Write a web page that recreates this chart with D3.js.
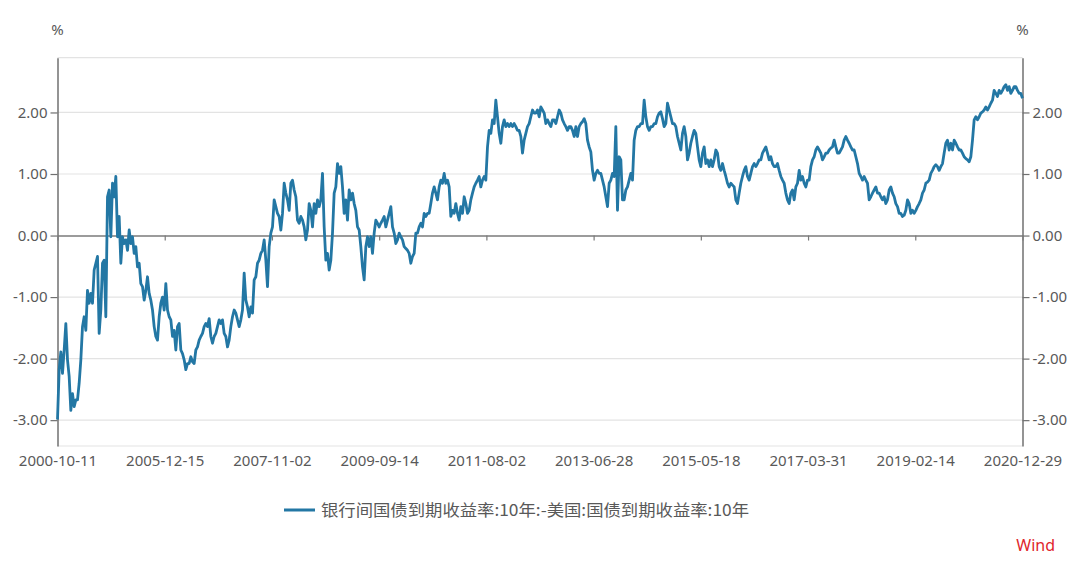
<!DOCTYPE html>
<html><head><meta charset="utf-8">
<script src="https://cdn.jsdelivr.net/npm/d3@7"></script>
<style>
html,body{margin:0;padding:0;background:#fff;}
svg{display:block;}
</style>
</head><body>
<div id="chart"></div>
<script>
// ---- data ----
const xTickLabels = ["2000-10-11","2005-12-15","2007-11-02","2009-09-14","2011-08-02","2013-06-28","2015-05-18","2017-03-31","2019-02-14","2020-12-29"];
const yTicks = [-3, -2, -1, 0, 1, 2];
const seriesName = "银行间国债到期收益率:10年:-美国:国债到期收益率:10年";
const unitLabel = "%";
const sourceLabel = "Wind";
// China 10Y minus US 10Y yield spread (%), evenly spaced observations
const spreadValues = [
-2.99,-2.18,-1.89,-2.24,-1.86,-1.43,-2.02,-2.29,-2.84,-2.57,-2.78,-2.67,-2.67,-2.40,-2.02,-1.48,-1.32,-1.54,-0.89,-1.10,
-0.94,-1.10,-0.56,-0.45,-0.34,-1.59,-1.21,-0.45,-0.40,-1.32,0.63,0.74,-0.02,0.85,0.63,0.96,-0.02,0.31,-0.45,-0.02,
-0.13,-0.07,-0.24,0.09,-0.13,-0.02,-0.29,-0.18,-0.51,-0.45,-0.78,-0.83,-1.05,-0.89,-0.67,-0.94,-1.05,-1.21,-1.48,-1.64,
-1.70,-1.32,-1.10,-1.00,-1.21,-0.78,-1.21,-1.32,-1.37,-1.64,-1.54,-1.86,-1.48,-1.43,-1.86,-1.92,-2.02,-2.18,-2.08,-2.08,
-1.97,-2.05,-2.08,-1.86,-1.81,-1.70,-1.64,-1.59,-1.48,-1.43,-1.48,-1.35,-1.64,-1.75,-1.64,-1.59,-1.48,-1.37,-1.43,-1.37,
-1.59,-1.64,-1.81,-1.70,-1.48,-1.32,-1.21,-1.26,-1.37,-1.48,-1.37,-1.21,-0.61,-1.05,-1.16,-1.32,-1.16,-1.26,-0.72,-0.67,
-0.45,-0.40,-0.29,-0.24,-0.07,-0.40,-0.83,-0.18,0.04,0.14,0.58,0.47,0.36,0.31,0.09,0.36,0.85,0.69,0.58,0.41,
0.85,0.90,0.74,0.63,0.25,0.20,0.31,0.25,0.14,-0.07,0.09,0.52,0.41,0.14,0.52,0.36,0.58,0.47,0.58,1.01,
0.14,-0.40,-0.29,-0.56,-0.40,0.04,0.69,0.79,1.17,1.01,1.12,0.79,0.36,0.58,0.25,0.74,0.58,0.69,0.52,0.41,
0.14,0.09,-0.18,-0.51,-0.72,-0.18,-0.02,-0.18,-0.02,-0.29,0.04,0.25,0.20,0.14,
0.20,0.25,0.31,0.14,0.25,0.36,0.47,0.14,0.04,-0.13,-0.07,0.04,-0.02,-0.07,-0.18,-0.21,-0.24,-0.29,-0.45,-0.34,
-0.29,0.04,0.04,0.14,0.20,0.14,0.36,0.31,0.36,0.36,0.52,0.69,0.79,0.69,0.58,0.79,0.90,0.85,1.01,0.85,
0.90,0.79,0.31,0.41,0.36,0.52,0.36,0.25,0.47,0.36,0.63,0.52,0.36,0.41,0.58,0.69,0.79,0.85,0.90,0.96,
0.79,0.90,0.96,0.90,1.44,1.71,1.66,1.88,1.82,2.20,1.93,1.66,1.50,1.77,1.88,1.77,1.82,1.77,1.82,1.77,
1.82,1.77,1.71,1.71,1.61,1.34,1.55,1.66,1.77,1.82,1.93,2.04,1.99,1.99,2.04,1.93,2.09,2.04,1.99,1.82,
1.88,1.82,1.77,1.88,1.88,1.82,1.93,2.04,1.99,1.88,1.82,1.77,1.71,1.77,
1.77,1.71,1.61,1.77,1.61,1.77,1.82,1.85,1.90,1.82,1.55,1.44,1.36,1.06,0.90,1.01,1.06,1.01,1.01,0.90,
0.79,0.63,0.47,0.85,0.90,1.01,0.96,1.77,0.41,1.28,1.23,0.58,0.58,0.74,0.79,0.90,1.01,0.90,1.55,1.71,
1.77,1.77,1.82,1.82,2.20,1.93,1.77,1.71,1.77,1.77,1.82,1.82,1.93,1.99,2.01,1.90,1.77,1.82,2.15,2.04,
1.93,1.82,1.82,1.77,1.61,1.50,1.39,1.66,1.77,1.61,1.23,1.34,1.50,1.61,1.71,1.66,1.44,1.23,1.12,1.34,
1.44,1.17,1.23,1.12,1.23,1.12,1.23,1.39,1.34,1.12,1.06,1.17,1.06,0.96,0.85,0.79,0.85,0.82,0.79,0.58,
0.52,0.69,0.85,0.96,1.06,1.12,0.96,0.90,1.01,1.12,1.17,1.12,1.17,1.23,
1.23,1.34,1.39,1.44,1.34,1.23,1.28,1.17,1.12,1.12,1.17,1.06,0.96,0.90,0.85,0.69,0.58,0.52,0.69,0.74,
0.58,0.79,0.85,1.06,0.90,0.96,0.85,0.79,0.90,0.90,1.12,1.23,1.28,1.39,1.44,1.39,1.34,1.23,1.28,1.34,
1.34,1.39,1.42,1.44,1.55,1.44,1.34,1.34,1.39,1.44,1.55,1.61,1.55,1.50,1.44,1.39,1.39,1.28,1.17,1.01,
0.96,0.90,0.96,0.90,0.85,0.58,0.63,0.69,0.74,0.79,0.69,0.69,0.63,0.58,0.63,0.52,0.58,0.74,0.79,0.69,
0.63,0.52,0.47,0.36,
0.36,0.31,0.33,0.41,0.58,0.52,0.36,0.41,0.36,0.41,0.47,0.52,0.58,0.69,0.74,0.85,0.87,0.90,1.01,1.06,
1.12,1.15,1.12,1.06,1.12,1.17,1.34,1.50,1.55,1.39,1.50,1.39,1.55,1.50,1.44,1.39,1.39,1.34,1.28,1.25,
1.23,1.20,1.28,1.55,1.88,1.93,1.88,1.93,1.99,2.01,2.04,2.09,2.04,2.09,2.15,2.20,2.36,2.31,2.26,2.36,
2.31,2.36,2.42,2.45,2.36,2.42,2.31,2.36,2.42,2.42,2.36,2.31,2.31,2.23
];

// ---- layout ----
const W = 1080, H = 561;
const plot = {left: 57.5, right: 1022.5, top: 57.7, bottom: 446};
const yDomain = [-3.42, 2.89];
const lineColor = "#2377a4";
const textColor = "#595959";
const font = "'Noto Sans', 'Open Sans', sans-serif";
const cjkFont = "'Noto Sans CJK SC', 'Noto Sans', sans-serif";

const svg = d3.select("#chart").append("svg").attr("width", W).attr("height", H);

const x = d3.scaleLinear().domain([0, spreadValues.length - 1]).range([plot.left, plot.right]);
const y = d3.scaleLinear().domain(yDomain).range([plot.bottom, plot.top]);

const tickIdx = xTickLabels.map((_, k) => k * (spreadValues.length - 1) / (xTickLabels.length - 1));
const fmt = d3.formatLocale({decimal: ".", thousands: ",", grouping: [3], currency: ["", ""], minus: "-"}).format(".2f");

// gridlines
const gridVals = yTicks.filter(v => v !== 0).concat(yDomain);
svg.append("g").selectAll("line").data(gridVals).join("line")
  .attr("x1", plot.left).attr("x2", plot.right)
  .attr("y1", d => y(d)).attr("y2", d => y(d))
  .attr("stroke", "#e3e3e3").attr("stroke-width", 1.2);

// left axis
const yl = svg.append("g").attr("transform", `translate(${plot.left},0)`)
  .call(d3.axisLeft(y).tickValues(yTicks).tickSize(7).tickPadding(3).tickFormat(fmt).tickSizeOuter(0));
// right axis
const yr = svg.append("g").attr("transform", `translate(${plot.right},0)`)
  .call(d3.axisRight(y).tickValues(yTicks).tickSize(7).tickPadding(3).tickFormat(fmt).tickSizeOuter(0));
[yl, yr].forEach(g => {
  g.select(".domain").attr("stroke", "#707070").attr("stroke-width", 1.5);
  g.selectAll(".tick line").attr("stroke", "#707070").attr("stroke-width", 1.2);
  g.selectAll(".tick text").attr("fill", textColor).style("font-family", font).style("font-size", "15px");
});

// zero line with tick marks
const xz = svg.append("g").attr("transform", `translate(0,${y(0)})`)
  .call(d3.axisBottom(x).tickValues(tickIdx).tickSize(5).tickSizeOuter(0).tickFormat(""));
xz.select(".domain").attr("stroke", "#7a7a7a").attr("stroke-width", 1.5);
xz.selectAll(".tick line").attr("stroke", "#7a7a7a").attr("stroke-width", 1.2);

// bottom labels
const xb = svg.append("g").attr("transform", `translate(0,${plot.bottom})`)
  .call(d3.axisBottom(x).tickValues(tickIdx).tickSize(0).tickPadding(9).tickFormat((d, i) => xTickLabels[i]));
xb.select(".domain").remove();
xb.selectAll(".tick text").attr("fill", textColor).style("font-family", font).style("font-size", "15px");

// unit labels
svg.append("text").attr("x", plot.left).attr("y", 35).attr("text-anchor", "middle")
  .attr("fill", textColor).style("font-family", font).style("font-size", "15px").text(unitLabel);
svg.append("text").attr("x", plot.right).attr("y", 35).attr("text-anchor", "middle")
  .attr("fill", textColor).style("font-family", font).style("font-size", "15px").text(unitLabel);

// the line
const line = d3.line().x((d, i) => x(i)).y(d => y(d)).curve(d3.curveLinear);
svg.append("path").datum(spreadValues)
  .attr("d", line).attr("fill", "none")
  .attr("stroke", lineColor).attr("stroke-width", 2.8).attr("stroke-linejoin", "round");

// legend
const lg = svg.append("g").attr("transform", "translate(284,510)");
lg.append("line").attr("x1", 0).attr("x2", 31).attr("y1", 0).attr("y2", 0)
  .attr("stroke", lineColor).attr("stroke-width", 3);
lg.append("text").attr("x", 37).attr("y", 0).attr("dy", "0.35em")
  .attr("fill", textColor).style("font-family", cjkFont).style("font-size", "16px")
  .attr("textLength", 428).attr("lengthAdjust", "spacingAndGlyphs")
  .text(seriesName);

// source
svg.append("text").attr("x", 1055).attr("y", 551).attr("text-anchor", "end")
  .attr("fill", "#e0262b").style("font-family", font).style("font-size", "16px").text(sourceLabel);
</script>
</body></html>
